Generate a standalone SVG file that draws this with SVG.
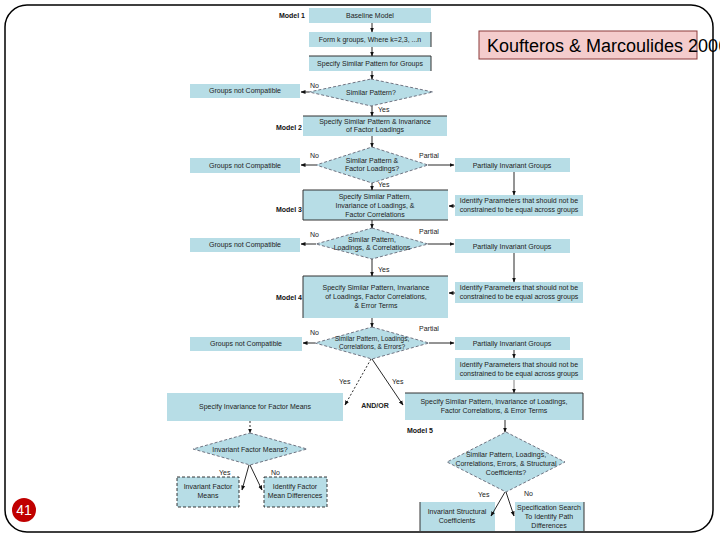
<svg xmlns="http://www.w3.org/2000/svg" width="720" height="540" viewBox="0 0 720 540">
<style>
.bx{fill:#b7dde6;stroke:none}
.ed{fill:none;stroke:#333;stroke-width:1}
.dm{fill:#b7dde6;stroke:#556;stroke-width:0.8;stroke-dasharray:3 2}
.dbx{fill:#b7dde6;stroke:#222;stroke-width:0.9;stroke-dasharray:3 2}
.t{font-family:"Liberation Sans",Arial,sans-serif;font-size:7px;fill:#222;text-anchor:middle}
.lb{font-family:"Liberation Sans",Arial,sans-serif;font-size:7px;fill:#222}
.m{font-family:"Liberation Sans",Arial,sans-serif;font-size:7px;font-weight:bold;fill:#111;text-anchor:end}
.c{fill:none;stroke:#111;stroke-width:0.9}
.cd{fill:none;stroke:#111;stroke-width:0.9;stroke-dasharray:2 2}
</style>
<defs>
<marker id="ah" viewBox="0 0 10 10" refX="9" refY="5" markerWidth="5" markerHeight="5" orient="auto" markerUnits="userSpaceOnUse">
<path d="M0,1 L10,5 L0,9 Z" fill="#111"/>
</marker>
</defs>
<rect x="5" y="5" width="708" height="527" rx="22" ry="22" fill="#fff" stroke="#000" stroke-width="1.5"/>

<g id="model-labels">
<text class="m" x="305" y="18">Model 1</text>
<text class="m" x="302" y="130">Model 2</text>
<text class="m" x="302" y="212">Model 3</text>
<text class="m" x="302" y="300">Model 4</text>
<text class="m" x="433" y="433">Model 5</text>
</g>

<g id="baseline"><rect class="bx" x="309" y="8" width="122" height="15"/><text class="t" x="370" y="18">Baseline Model</text></g>
<g id="formk"><rect class="bx" x="309" y="32" width="122" height="15"/><path class="ed" d="M431,32 V47"/><text class="t" x="370" y="42">Form k groups, Where k=2,3, ...n</text></g>
<g id="specify1"><rect class="bx" x="309" y="56" width="122" height="15"/><path class="ed" d="M309,56 H431 V71"/><text class="t" x="370" y="66">Specify Similar Pattern for Groups</text></g>
<g id="d1"><polygon class="dm" points="371,79 433,92 371,106 309,92"/><text class="t" x="371" y="95">Similar Pattern?</text></g>
<g id="gnc1"><rect class="bx" x="190" y="84" width="110" height="14"/><text class="t" x="245" y="93">Groups not Compatible</text></g>
<g id="model2"><rect class="bx" x="303" y="116" width="144" height="20"/><path class="ed" d="M303,116 H447"/><text class="t" x="375" y="124">Specify Similar Pattern &amp; Invariance</text><text class="t" x="375" y="132">of Factor Loadings</text></g>

<g id="d2"><polygon class="dm" points="372,147 428,165 372,183 316,165"/><text class="t" x="372" y="163">Similar Pattern &amp;</text><text class="t" x="372" y="171">Factor Loadings?</text></g>
<g id="gnc2"><rect class="bx" x="190" y="158" width="110" height="15"/><text class="t" x="245" y="168">Groups not Compatible</text></g>
<g id="piv1"><rect class="bx" x="455" y="158" width="115" height="14"/><text class="t" x="512" y="168">Partially Invariant Groups</text></g>
<g id="model3"><rect class="bx" x="303" y="190" width="145" height="30"/><path class="ed" d="M448,220 H303 V190 H448"/><text class="t" x="375" y="199">Specify Similar Pattern,</text><text class="t" x="375" y="208">Invariance of Loadings, &amp;</text><text class="t" x="375" y="217">Factor Correlations</text></g>
<g id="idp1"><rect class="bx" x="455" y="195" width="128" height="21"/><text class="t" x="519" y="203">Identify Parameters that should not be</text><text class="t" x="519" y="212">constrained to be equal across groups</text></g>

<g id="d3"><polygon class="dm" points="372,228 428,244 372,259 316,244"/><text class="t" x="372" y="242">Similar Pattern,</text><text class="t" x="372" y="250">Loadings, &amp; Correlations</text></g>
<g id="gnc3"><rect class="bx" x="190" y="238" width="110" height="14"/><text class="t" x="245" y="247">Groups not Compatible</text></g>
<g id="piv2"><rect class="bx" x="455" y="239" width="115" height="14"/><text class="t" x="512" y="249">Partially Invariant Groups</text></g>
<g id="model4"><rect class="bx" x="303" y="276" width="145" height="42"/><path class="ed" d="M303,318 V276 H448"/><text class="t" x="376" y="290">Specify Similar Pattern, Invariance</text><text class="t" x="376" y="299">of Loadings, Factor Correlations,</text><text class="t" x="376" y="308">&amp; Error Terms</text></g>
<g id="idp2"><rect class="bx" x="455" y="282" width="128" height="21"/><text class="t" x="519" y="290">Identify Parameters that should not be</text><text class="t" x="519" y="299">constrained to be equal across groups</text></g>

<g id="d4"><polygon class="dm" points="372,327 429,343 372,359 315,343"/><text class="t" x="372" y="341" style="font-size:6.5px">Similar Pattern, Loadings,</text><text class="t" x="372" y="349" style="font-size:6.5px">Correlations, &amp; Errors?</text></g>
<g id="gnc4"><rect class="bx" x="190" y="337" width="112" height="14"/><text class="t" x="246" y="346">Groups not Compatible</text></g>
<g id="piv3"><rect class="bx" x="455" y="337" width="115" height="13"/><text class="t" x="512" y="346">Partially Invariant Groups</text></g>
<g id="idp3"><rect class="bx" x="455" y="358" width="128" height="22"/><text class="t" x="519" y="367">Identify Parameters that should not be</text><text class="t" x="519" y="376">constrained to be equal across groups</text></g>

<g id="means"><rect class="bx" x="167" y="393" width="176" height="28"/><text class="t" x="255" y="409">Specify Invariance for Factor Means</text></g>
<text class="lb" x="375" y="408" style="font-weight:bold;text-anchor:middle">AND/OR</text>
<g id="model5"><rect class="bx" x="405" y="393" width="178" height="27"/><path class="ed" d="M405,393 H583 V420"/><text class="t" x="494" y="404">Specify Similar Pattern, Invariance of Loadings,</text><text class="t" x="494" y="413">Factor Correlations, &amp; Error Terms</text></g>

<g id="d5"><polygon class="dm" points="250,433 307,449 250,465 193,449"/><text class="t" x="250" y="452">Invariant Factor Means?</text></g>
<g id="ifm"><rect class="dbx" x="177" y="477" width="62" height="30"/><text class="t" x="208" y="489">Invariant Factor</text><text class="t" x="208" y="498">Means</text></g>
<g id="ifmd"><rect class="dbx" x="264" y="477" width="63" height="30"/><text class="t" x="295" y="489">Identify Factor</text><text class="t" x="295" y="498">Mean Differences</text></g>

<g id="d6"><polygon class="dm" points="506,432 565,462 506,492 447,462"/><text class="t" x="506" y="457">Similar Pattern, Loadings,</text><text class="t" x="506" y="466">Correlations, Errors, &amp; Structural</text><text class="t" x="506" y="475">Coefficients?</text></g>
<g id="isc"><rect class="bx" x="420" y="502" width="75" height="29"/><path class="ed" d="M420,502 V531"/><text class="t" x="457" y="514">Invariant Structural</text><text class="t" x="457" y="523">Coefficients</text></g>
<g id="ss"><rect class="bx" x="515" y="502" width="69" height="29"/><path class="ed" d="M584,502 V531"/><text class="t" x="549" y="510">Specification Search</text><text class="t" x="549" y="519">To Identify Path</text><text class="t" x="549" y="528">Differences</text></g>

<g id="connectors">
<path class="c" d="M372,23 V32" marker-end="url(#ah)"/>
<path class="c" d="M372,47 V56" marker-end="url(#ah)"/>
<path class="c" d="M372,71 V79" marker-end="url(#ah)"/>
<path class="c" d="M309,92 H301" marker-end="url(#ah)"/>
<path class="c" d="M372,106 V116" marker-end="url(#ah)"/>
<path class="c" d="M372,136 V147" marker-end="url(#ah)"/>
<path class="c" d="M316,165 H301" marker-end="url(#ah)"/>
<path class="c" d="M428,165 H454" marker-end="url(#ah)"/>
<path class="c" d="M372,183 V190" marker-end="url(#ah)"/>
<path class="c" d="M514,172 V195" marker-end="url(#ah)"/>
<path class="c" d="M455,206 H449" marker-end="url(#ah)"/>
<path class="c" d="M372,220 V228" marker-end="url(#ah)"/>
<path class="c" d="M316,244 H301" marker-end="url(#ah)"/>
<path class="c" d="M428,244 H454" marker-end="url(#ah)"/>
<path class="c" d="M514,253 V282" marker-end="url(#ah)"/>
<path class="c" d="M372,259 V276" marker-end="url(#ah)"/>
<path class="c" d="M455,293 H449" marker-end="url(#ah)"/>
<path class="c" d="M372,318 V327" marker-end="url(#ah)"/>
<path class="c" d="M315,343 H303" marker-end="url(#ah)"/>
<path class="c" d="M429,343 H454" marker-end="url(#ah)"/>
<path class="c" d="M514,350 V358" marker-end="url(#ah)"/>
<path class="c" d="M514,380 V393" style="stroke:#777" marker-end="url(#ah)"/>
<path class="cd" d="M371,359 L345,405" marker-end="url(#ah)"/>
<path class="c" d="M372,359 L403,405" marker-end="url(#ah)"/>
<path class="cd" d="M250,421 V433" marker-end="url(#ah)"/>
<path class="c" d="M249,465 L242,490" marker-end="url(#ah)"/>
<path class="c" d="M250,465 L262,490" marker-end="url(#ah)"/>
<path class="c" d="M505,420 V432" marker-end="url(#ah)"/>
<path class="c" d="M505,492 L491,516" marker-end="url(#ah)"/>
<path class="c" d="M506,492 L514,516" marker-end="url(#ah)"/>
</g>

<g id="edge-labels">
<text class="lb" x="310" y="88">No</text>
<text class="lb" x="378" y="112">Yes</text>
<text class="lb" x="310" y="158">No</text>
<text class="lb" x="419" y="158">Partial</text>
<text class="lb" x="378" y="187">Yes</text>
<text class="lb" x="310" y="237">No</text>
<text class="lb" x="419" y="234">Partial</text>
<text class="lb" x="378" y="272">Yes</text>
<text class="lb" x="310" y="335">No</text>
<text class="lb" x="419" y="331">Partial</text>
<text class="lb" x="339" y="384">Yes</text>
<text class="lb" x="392" y="384">Yes</text>
<text class="lb" x="219" y="475">Yes</text>
<text class="lb" x="271" y="475">No</text>
<text class="lb" x="478" y="497">Yes</text>
<text class="lb" x="524" y="496">No</text>
</g>

<g id="citation">
<rect x="479" y="31" width="218" height="28" fill="#f4cccc" stroke="#8b3a3a" stroke-width="1"/>
<text x="487" y="52" style="font-family:'Liberation Sans',Arial,sans-serif;font-size:18px;fill:#000">Koufteros &amp; Marcoulides 2006</text>
</g>
<g id="page-number">
<circle cx="24" cy="510" r="12" fill="#c00000"/>
<text x="24" y="515" style="font-family:'Liberation Sans',Arial,sans-serif;font-size:14px;fill:#fff;text-anchor:middle">41</text>
</g>
</svg>
